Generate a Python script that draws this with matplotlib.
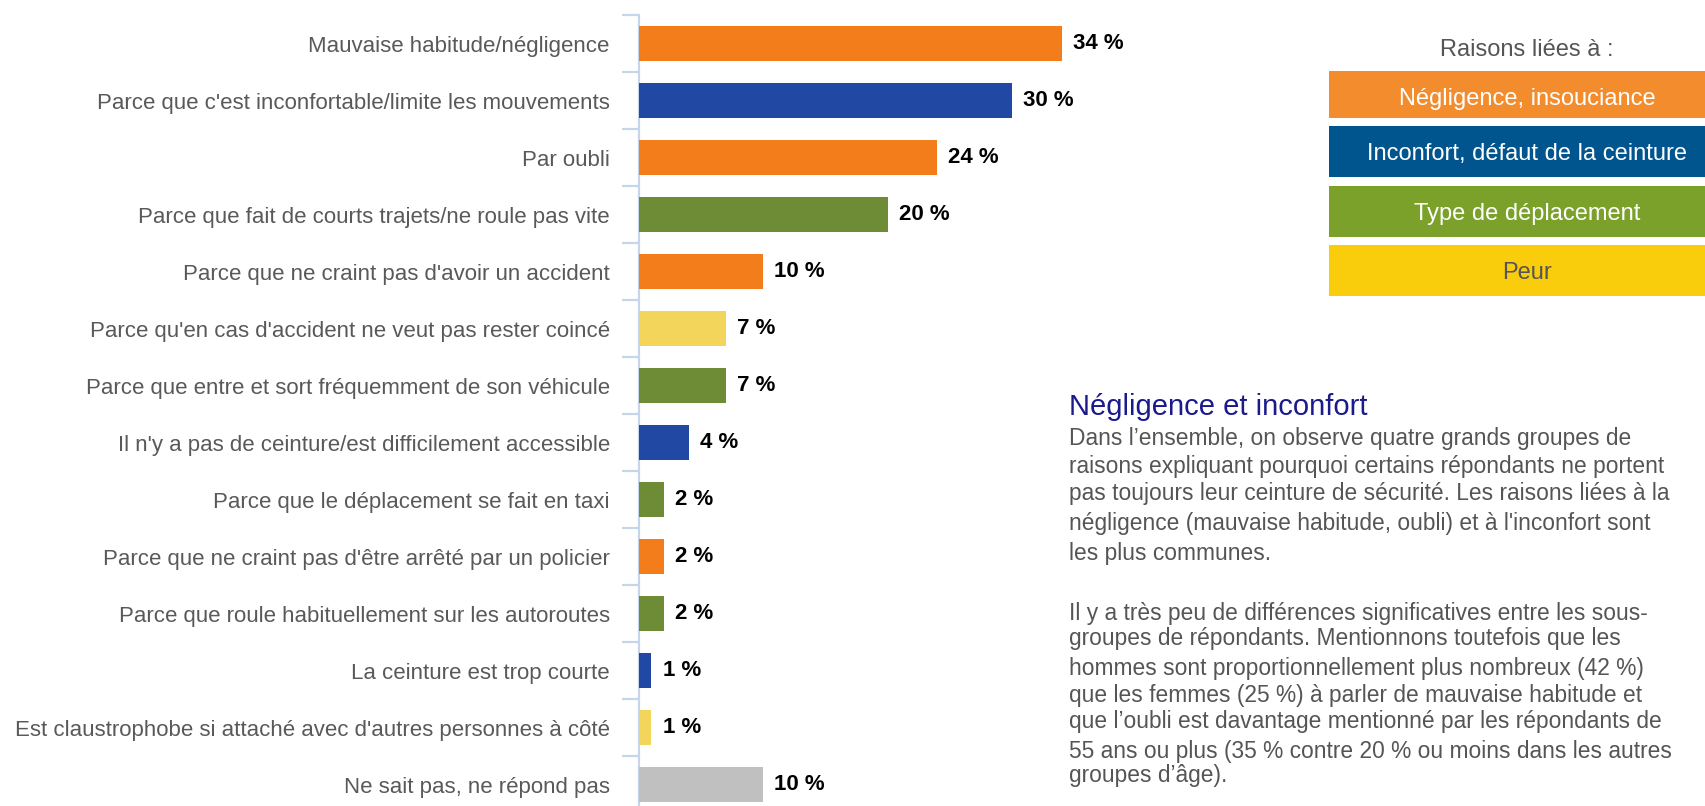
import matplotlib
matplotlib.use("Agg")
import matplotlib.pyplot as plt
from matplotlib.patches import Rectangle
from matplotlib.ticker import FixedLocator

plt.rcParams['font.family'] = ['Liberation Sans', 'DejaVu Sans']

# ---- data ----
categories = [
    "Mauvaise habitude/négligence",
    "Parce que c'est inconfortable/limite les mouvements",
    "Par oubli",
    "Parce que fait de courts trajets/ne roule pas vite",
    "Parce que ne craint pas d'avoir un accident",
    "Parce qu'en cas d'accident ne veut pas rester coincé",
    "Parce que entre et sort fréquemment de son véhicule",
    "Il n'y a pas de ceinture/est difficilement accessible",
    "Parce que le déplacement se fait en taxi",
    "Parce que ne craint pas d'être arrêté par un policier",
    "Parce que roule habituellement sur les autoroutes",
    "La ceinture est trop courte",
    "Est claustrophobe si attaché avec d'autres personnes à côté",
    "Ne sait pas, ne répond pas",
]
values = [34, 30, 24, 20, 10, 7, 7, 4, 2, 2, 2, 1, 1, 10]
groups = ["neg", "inc", "neg", "dep", "neg", "peur", "dep", "inc",
          "dep", "neg", "dep", "inc", "peur", "nsp"]

legend_title = "Raisons liées à :"
legend_labels = ["Négligence, insouciance", "Inconfort, défaut de la ceinture",
                 "Type de déplacement", "Peur"]

bar_colors = {"neg": "#F47D1B", "inc": "#2149A3", "dep": "#6E8C35",
              "peur": "#F2D55A", "nsp": "#C0C0C0"}
legend_colors = ["#F38C2D", "#01558F", "#7BA12A", "#FACD0C"]
legend_text_colors = ["white", "white", "white", "#555555"]

text_title = "Négligence et inconfort"
para1 = [
    "Dans l’ensemble, on observe quatre grands groupes de",
    "raisons expliquant pourquoi certains répondants ne portent",
    "pas toujours leur ceinture de sécurité. Les raisons liées à la",
    "négligence (mauvaise habitude, oubli) et à l'inconfort sont",
    "les plus communes.",
]
para2 = [
    "Il y a très peu de différences significatives entre les sous-",
    "groupes de répondants. Mentionnons toutefois que les",
    "hommes sont proportionnellement plus nombreux (42 %)",
    "que les femmes (25 %) à parler de mauvaise habitude et",
    "que l’oubli est davantage mentionné par les répondants de",
    "55 ans ou plus (35 % contre 20 % ou moins dans les autres",
    "groupes d’âge).",
]

# ---- figure ----
W, H = 1706, 806
fig = plt.figure(figsize=(W / 100, H / 100), dpi=100)

def fx(x):
    return x / W

def fy(y):
    return 1 - y / H

ax_left, ax_right, ax_top, ax_bot = 639, 1100, 15, 813
ax = fig.add_axes([fx(ax_left), fy(ax_bot), (ax_right - ax_left) / W, (ax_bot - ax_top) / H])
ax.patch.set_alpha(0)

n = len(categories)
ypos = list(range(n))
ax.barh(ypos, values, height=0.63, color=[bar_colors[g] for g in groups], zorder=3)
ax.set_ylim(n - 0.5, -0.5)
px_per_pct = 12.43
ax.set_xlim(0, (ax_right - ax_left) / px_per_pct)

spine_col = "#C5D5EA"
for s in ["top", "right", "bottom"]:
    ax.spines[s].set_visible(False)
ax.spines["left"].set_color(spine_col)
ax.spines["left"].set_linewidth(1.6)
ax.set_xticks([])
ax.set_yticks(ypos)
ax.set_yticklabels(categories, fontsize=16, color="#595959")
ax.tick_params(axis="y", which="major", length=0, pad=21)
ax.yaxis.set_minor_locator(FixedLocator([i - 0.5 for i in range(n + 1)]))
ax.tick_params(axis="y", which="minor", length=12.5, width=1.6, color=spine_col)

for y, v in zip(ypos, values):
    ax.annotate(f"{v} %", (v, y), xytext=(8, 0), textcoords="offset points",
                ha="left", va="center", fontsize=16, fontweight="bold", color="black")

# ---- legend boxes ----
fig.text(fx(1527), fy(56), legend_title, ha="center", va="baseline", fontsize=17, color="#555555")
box_tops = [71, 126, 186, 245]
box_bots = [118, 177, 237, 296]
for lab, c, tc, t, b in zip(legend_labels, legend_colors, legend_text_colors, box_tops, box_bots):
    fig.patches.append(Rectangle((fx(1329), fy(b)), (1725 - 1329) / W, (b - t) / H,
                                 transform=fig.transFigure, facecolor=c, edgecolor="none"))
    fig.text(fx(1527), fy(t + 34), lab, ha="center", va="baseline", fontsize=17, color=tc)

# ---- text block ----
fig.text(fx(1069), fy(415), text_title, ha="left", va="baseline", fontsize=21, color="#1A1A8C")
p1_y = [445, 473, 500, 530, 560]
p2_y = [620, 645, 675, 702, 728, 758, 782]
for line, y in zip(para1 + para2, p1_y + p2_y):
    fig.text(fx(1069), fy(y), line, ha="left", va="baseline", fontsize=16.4, color="#555555")

fig.savefig("out.png", dpi=100)
